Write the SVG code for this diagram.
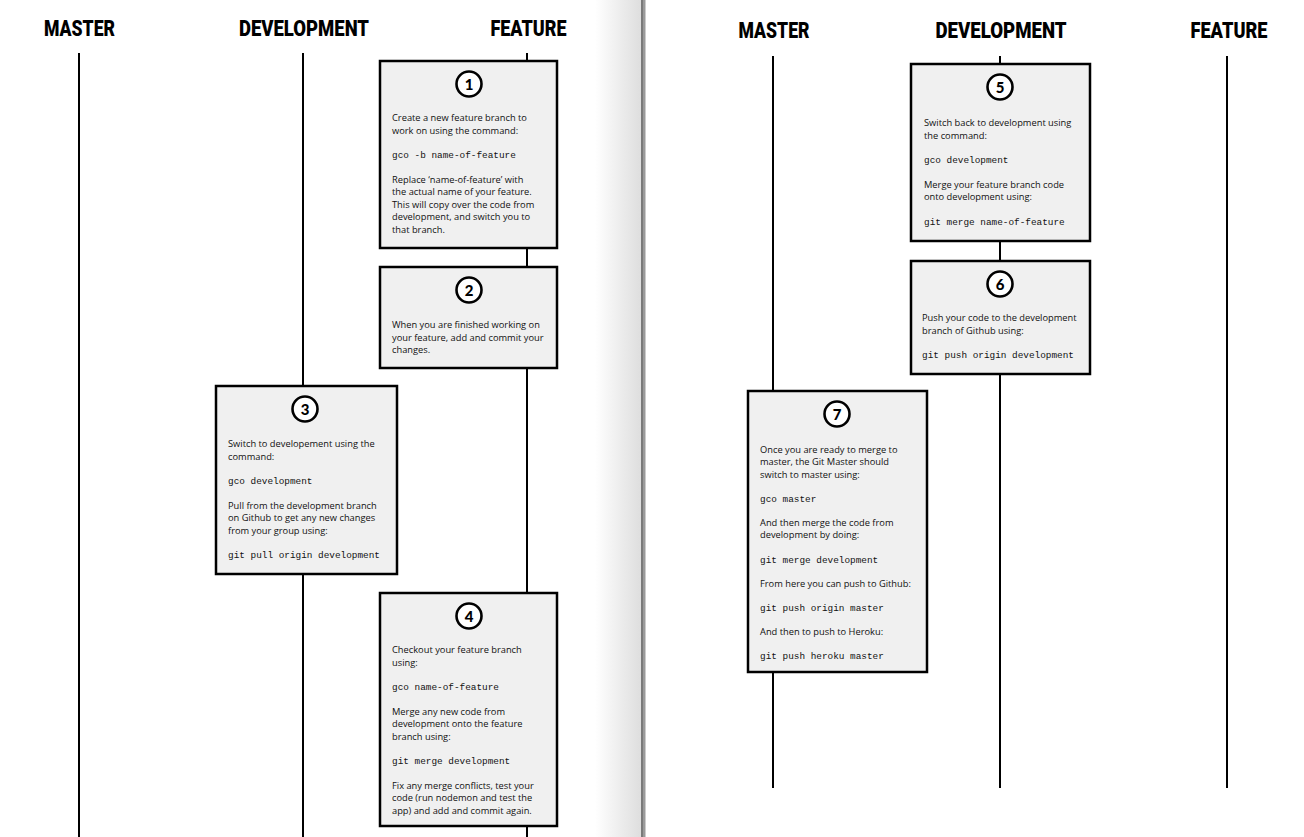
<svg xmlns="http://www.w3.org/2000/svg" width="1304" height="837" viewBox="0 0 1304 837">
<defs>
<linearGradient id="fold" x1="0" y1="0" x2="1" y2="0">
<stop offset="0" stop-color="#ffffff"/>
<stop offset="1" stop-color="#dedede"/>
</linearGradient>
<style>
.lane{stroke:#000;stroke-width:2;fill:none}
.box{fill:#f0f0f0;stroke:#000;stroke-width:2.5}
.num{fill:#fff;stroke:#000;stroke-width:2.6}
.numt{font-family:Lato,'DejaVu Sans',sans-serif;font-weight:900;font-size:15px;text-anchor:middle}
.t{font-family:'Open Sans','Noto Sans',sans-serif;font-size:9.3px;fill:#111}
.m{font-family:'Liberation Mono','DejaVu Sans Mono',monospace;font-size:9.4px;fill:#111}
.h{font-family:Roboto,'Liberation Sans',sans-serif;font-weight:900;font-size:22px;text-anchor:middle}
</style>
</defs>
<rect width="1304" height="837" fill="#fff"/>
<g id="page-fold">
<rect x="595" y="0" width="46" height="837" fill="url(#fold)"/>
<rect x="641" y="0" width="2" height="837" fill="#7a7a7a"/>
<rect x="643" y="0" width="2.5" height="837" fill="#9a9a9a"/>
</g>
<g id="headers">
<text class="h" x="79.5" y="36" textLength="71" lengthAdjust="spacingAndGlyphs">MASTER</text>
<text class="h" x="304" y="36" textLength="130" lengthAdjust="spacingAndGlyphs">DEVELOPMENT</text>
<text class="h" x="528.5" y="36" textLength="76" lengthAdjust="spacingAndGlyphs">FEATURE</text>
<text class="h" x="774" y="38" textLength="71" lengthAdjust="spacingAndGlyphs">MASTER</text>
<text class="h" x="1001" y="38" textLength="131" lengthAdjust="spacingAndGlyphs">DEVELOPMENT</text>
<text class="h" x="1229" y="38" textLength="77" lengthAdjust="spacingAndGlyphs">FEATURE</text>
</g>
<g id="connectors">
<line class="lane" x1="79" y1="53" x2="79" y2="837"/>
<line class="lane" x1="303" y1="53" x2="303" y2="837"/>
<line class="lane" x1="527" y1="53" x2="527" y2="837"/>
<line class="lane" x1="773" y1="56" x2="773" y2="788"/>
<line class="lane" x1="1000" y1="56" x2="1000" y2="788"/>
<line class="lane" x1="1227" y1="56" x2="1227" y2="788"/>
</g>
<g id="step1">
<rect class="box" x="380" y="61" width="177" height="187"/>
<circle class="num" cx="469" cy="84" r="12.5"/>
<text class="numt" x="469" y="89.5">1</text>
<text class="t" x="392" y="121">Create a new feature branch to</text>
<text class="t" x="392" y="133.5">work on using the command:</text>
<text class="m" x="392" y="158">gco -b name-of-feature</text>
<text class="t" x="392" y="182.5">Replace ‘name-of-feature’ with</text>
<text class="t" x="392" y="195">the actual name of your feature.</text>
<text class="t" x="392" y="207.5">This will copy over the code from</text>
<text class="t" x="392" y="220">development, and switch you to</text>
<text class="t" x="392" y="232.5">that branch.</text>
</g>
<g id="step2">
<rect class="box" x="380" y="267" width="177" height="101"/>
<circle class="num" cx="469" cy="290" r="12.5"/>
<text class="numt" x="469" y="295.5">2</text>
<text class="t" x="392" y="328">When you are finished working on</text>
<text class="t" x="392" y="340.5">your feature, add and commit your</text>
<text class="t" x="392" y="353">changes.</text>
</g>
<g id="step3">
<rect class="box" x="216" y="386" width="181" height="188"/>
<circle class="num" cx="305" cy="409" r="12.5"/>
<text class="numt" x="305" y="414.5">3</text>
<text class="t" x="228" y="447">Switch to developement using the</text>
<text class="t" x="228" y="459.5">command:</text>
<text class="m" x="228" y="484">gco development</text>
<text class="t" x="228" y="508.5">Pull from the development branch</text>
<text class="t" x="228" y="521">on Github to get any new changes</text>
<text class="t" x="228" y="533.5">from your group using:</text>
<text class="m" x="228" y="558">git pull origin development</text>
</g>
<g id="step4">
<rect class="box" x="380" y="593" width="177" height="233"/>
<circle class="num" cx="469" cy="616" r="12.5"/>
<text class="numt" x="469" y="621.5">4</text>
<text class="t" x="392" y="653">Checkout your feature branch</text>
<text class="t" x="392" y="665.5">using:</text>
<text class="m" x="392" y="690">gco name-of-feature</text>
<text class="t" x="392" y="714.5">Merge any new code from</text>
<text class="t" x="392" y="727">development onto the feature</text>
<text class="t" x="392" y="739.5">branch using:</text>
<text class="m" x="392" y="764">git merge development</text>
<text class="t" x="392" y="788.5">Fix any merge conflicts, test your</text>
<text class="t" x="392" y="801">code (run nodemon and test the</text>
<text class="t" x="392" y="813.5">app) and add and commit again.</text>
</g>
<g id="step5">
<rect class="box" x="911" y="64" width="179" height="177"/>
<circle class="num" cx="1000" cy="87" r="12.5"/>
<text class="numt" x="1000" y="92.5">5</text>
<text class="t" x="924" y="126">Switch back to development using</text>
<text class="t" x="924" y="138.5">the command:</text>
<text class="m" x="924" y="163">gco development</text>
<text class="t" x="924" y="187.5">Merge your feature branch code</text>
<text class="t" x="924" y="200">onto development using:</text>
<text class="m" x="924" y="224.5">git merge name-of-feature</text>
</g>
<g id="step6">
<rect class="box" x="911" y="261" width="179" height="113"/>
<circle class="num" cx="1000" cy="284" r="12.5"/>
<text class="numt" x="1000" y="289.5">6</text>
<text class="t" x="922" y="321">Push your code to the development</text>
<text class="t" x="922" y="333.5">branch of Github using:</text>
<text class="m" x="922" y="358">git push origin development</text>
</g>
<g id="step7">
<rect class="box" x="748" y="391" width="179" height="281"/>
<circle class="num" cx="837" cy="414" r="12.5"/>
<text class="numt" x="837" y="419.5">7</text>
<text class="t" x="760" y="452.5">Once you are ready to merge to</text>
<text class="t" x="760" y="465">master, the Git Master should</text>
<text class="t" x="760" y="477.5">switch to master using:</text>
<text class="m" x="760" y="501.5">gco master</text>
<text class="t" x="760" y="525.5">And then merge the code from</text>
<text class="t" x="760" y="538">development by doing:</text>
<text class="m" x="760" y="562.5">git merge development</text>
<text class="t" x="760" y="587">From here you can push to Github:</text>
<text class="m" x="760" y="611">git push origin master</text>
<text class="t" x="760" y="635">And then to push to Heroku:</text>
<text class="m" x="760" y="659">git push heroku master</text>
</g>
</svg>
